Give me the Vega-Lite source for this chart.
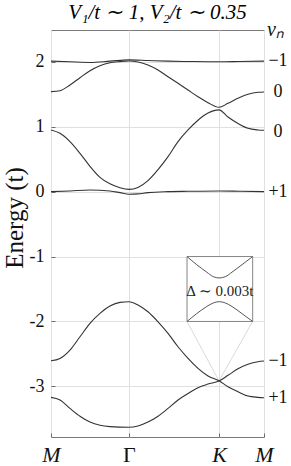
{
  "$schema": "https://vega.github.io/schema/vega-lite/v6.json",
  "width": 213,
  "height": 407,
  "autosize": {"type": "none"},
  "padding": {"left": 51, "top": 30, "right": 27, "bottom": 29},
  "background": "white",
  "title": {
    "text": "V₁/t ∼ 1, V₂/t ∼ 0.35",
    "font": "Liberation Serif",
    "fontSize": 21,
    "fontWeight": "normal",
    "fontStyle": "italic",
    "color": "#000000",
    "anchor": "middle",
    "frame": "group",
    "baseline": "alphabetic",
    "offset": 3,
    "dy": 23
  },
  "config": {
    "view": {"stroke": "#7a7a7a", "strokeWidth": 1},
    "axis": {
      "domain": false,
      "ticks": true,
      "tickSize": -4,
      "tickColor": "#6a6a6a",
      "tickWidth": 1,
      "gridColor": "#e0e0e0",
      "gridWidth": 1,
      "labelFont": "Liberation Serif",
      "labelColor": "#111111",
      "titleFont": "Liberation Serif",
      "titleColor": "#111111",
      "titleFontWeight": "normal"
    }
  },
  "datasets": {
    "bands": [
      {"band": "b1", "x": 0, "E": 2.01},
      {"band": "b1", "x": 0.211, "E": 2.0},
      {"band": "b1", "x": 0.433, "E": 1.99},
      {"band": "b1", "x": 0.655, "E": 2.01},
      {"band": "b1", "x": 0.866, "E": 2.03},
      {"band": "b1", "x": 1.077, "E": 2.02},
      {"band": "b1", "x": 1.3, "E": 2.01},
      {"band": "b1", "x": 1.522, "E": 2.005},
      {"band": "b1", "x": 1.866, "E": 2.0},
      {"band": "b1", "x": 2.1, "E": 2.005},
      {"band": "b1", "x": 2.366, "E": 2.01},
      {"band": "b2", "x": 0, "E": 1.54},
      {"band": "b2", "x": 0.1, "E": 1.555},
      {"band": "b2", "x": 0.211, "E": 1.643},
      {"band": "b2", "x": 0.322, "E": 1.755},
      {"band": "b2", "x": 0.433, "E": 1.863},
      {"band": "b2", "x": 0.544, "E": 1.94},
      {"band": "b2", "x": 0.655, "E": 1.986},
      {"band": "b2", "x": 0.766, "E": 2.003},
      {"band": "b2", "x": 0.866, "E": 2.012},
      {"band": "b2", "x": 0.966, "E": 1.997},
      {"band": "b2", "x": 1.077, "E": 1.951},
      {"band": "b2", "x": 1.189, "E": 1.874},
      {"band": "b2", "x": 1.3, "E": 1.77},
      {"band": "b2", "x": 1.411, "E": 1.669},
      {"band": "b2", "x": 1.522, "E": 1.565},
      {"band": "b2", "x": 1.633, "E": 1.462},
      {"band": "b2", "x": 1.744, "E": 1.37},
      {"band": "b2", "x": 1.866, "E": 1.299},
      {"band": "b2", "x": 1.966, "E": 1.36},
      {"band": "b2", "x": 2.077, "E": 1.438},
      {"band": "b2", "x": 2.188, "E": 1.499},
      {"band": "b2", "x": 2.299, "E": 1.53},
      {"band": "b2", "x": 2.366, "E": 1.535},
      {"band": "b3", "x": 0, "E": 0.95},
      {"band": "b3", "x": 0.1, "E": 0.898},
      {"band": "b3", "x": 0.211, "E": 0.77},
      {"band": "b3", "x": 0.322, "E": 0.59},
      {"band": "b3", "x": 0.433, "E": 0.39},
      {"band": "b3", "x": 0.544, "E": 0.22},
      {"band": "b3", "x": 0.655, "E": 0.12},
      {"band": "b3", "x": 0.766, "E": 0.06},
      {"band": "b3", "x": 0.866, "E": 0.035},
      {"band": "b3", "x": 0.966, "E": 0.065},
      {"band": "b3", "x": 1.077, "E": 0.17},
      {"band": "b3", "x": 1.189, "E": 0.34},
      {"band": "b3", "x": 1.3, "E": 0.54},
      {"band": "b3", "x": 1.411, "E": 0.77},
      {"band": "b3", "x": 1.522, "E": 0.95},
      {"band": "b3", "x": 1.633, "E": 1.1},
      {"band": "b3", "x": 1.744, "E": 1.21},
      {"band": "b3", "x": 1.866, "E": 1.26},
      {"band": "b3", "x": 1.966, "E": 1.15},
      {"band": "b3", "x": 2.077, "E": 1.05},
      {"band": "b3", "x": 2.188, "E": 0.975},
      {"band": "b3", "x": 2.299, "E": 0.95},
      {"band": "b3", "x": 2.366, "E": 0.945},
      {"band": "b4", "x": 0, "E": 0.0},
      {"band": "b4", "x": 0.211, "E": 0.01},
      {"band": "b4", "x": 0.433, "E": 0.025},
      {"band": "b4", "x": 0.655, "E": 0.01},
      {"band": "b4", "x": 0.766, "E": -0.015},
      {"band": "b4", "x": 0.866, "E": -0.04},
      {"band": "b4", "x": 0.966, "E": -0.035},
      {"band": "b4", "x": 1.077, "E": -0.015},
      {"band": "b4", "x": 1.3, "E": 0.0},
      {"band": "b4", "x": 1.522, "E": 0.005},
      {"band": "b4", "x": 1.866, "E": 0.01},
      {"band": "b4", "x": 2.1, "E": 0.005},
      {"band": "b4", "x": 2.366, "E": 0.0},
      {"band": "b5", "x": 0, "E": -2.606},
      {"band": "b5", "x": 0.1, "E": -2.569},
      {"band": "b5", "x": 0.211, "E": -2.441},
      {"band": "b5", "x": 0.322, "E": -2.236},
      {"band": "b5", "x": 0.433, "E": -2.029},
      {"band": "b5", "x": 0.544, "E": -1.875},
      {"band": "b5", "x": 0.655, "E": -1.763},
      {"band": "b5", "x": 0.766, "E": -1.706},
      {"band": "b5", "x": 0.866, "E": -1.696},
      {"band": "b5", "x": 0.966, "E": -1.747},
      {"band": "b5", "x": 1.077, "E": -1.85},
      {"band": "b5", "x": 1.189, "E": -2.005},
      {"band": "b5", "x": 1.3, "E": -2.183},
      {"band": "b5", "x": 1.411, "E": -2.39},
      {"band": "b5", "x": 1.522, "E": -2.569},
      {"band": "b5", "x": 1.633, "E": -2.723},
      {"band": "b5", "x": 1.744, "E": -2.841},
      {"band": "b5", "x": 1.866, "E": -2.914},
      {"band": "b5", "x": 1.966, "E": -3.006},
      {"band": "b5", "x": 2.077, "E": -3.083},
      {"band": "b5", "x": 2.188, "E": -3.149},
      {"band": "b5", "x": 2.299, "E": -3.169},
      {"band": "b5", "x": 2.366, "E": -3.176},
      {"band": "b6", "x": 0, "E": -3.17},
      {"band": "b6", "x": 0.1, "E": -3.21},
      {"band": "b6", "x": 0.211, "E": -3.34},
      {"band": "b6", "x": 0.322, "E": -3.46},
      {"band": "b6", "x": 0.433, "E": -3.55},
      {"band": "b6", "x": 0.544, "E": -3.6},
      {"band": "b6", "x": 0.655, "E": -3.62},
      {"band": "b6", "x": 0.866, "E": -3.63},
      {"band": "b6", "x": 0.966, "E": -3.61},
      {"band": "b6", "x": 1.077, "E": -3.55},
      {"band": "b6", "x": 1.189, "E": -3.46},
      {"band": "b6", "x": 1.3, "E": -3.34},
      {"band": "b6", "x": 1.411, "E": -3.21},
      {"band": "b6", "x": 1.522, "E": -3.11},
      {"band": "b6", "x": 1.633, "E": -3.02},
      {"band": "b6", "x": 1.744, "E": -2.965},
      {"band": "b6", "x": 1.866, "E": -2.917},
      {"band": "b6", "x": 1.966, "E": -2.83},
      {"band": "b6", "x": 2.077, "E": -2.73},
      {"band": "b6", "x": 2.188, "E": -2.66},
      {"band": "b6", "x": 2.299, "E": -2.62},
      {"band": "b6", "x": 2.366, "E": -2.61}
    ],
    "zoomLines": [
      {"seg": "L", "x": 1.511, "E": -2.0},
      {"seg": "L", "x": 1.866, "E": -2.916},
      {"seg": "R", "x": 2.24, "E": -2.0},
      {"seg": "R", "x": 1.866, "E": -2.916}
    ],
    "box": [
      {"x": 1.511, "x2": 2.24, "E": -1.0, "E2": -2.0}
    ],
    "inset": [
      {"c": "u", "x": 1.511, "E": -1.0},
      {"c": "u", "x": 1.618, "E": -1.125},
      {"c": "u", "x": 1.73, "E": -1.24},
      {"c": "u", "x": 1.803, "E": -1.31},
      {"c": "u", "x": 1.87, "E": -1.33},
      {"c": "u", "x": 1.937, "E": -1.31},
      {"c": "u", "x": 2.011, "E": -1.24},
      {"c": "u", "x": 2.122, "E": -1.125},
      {"c": "u", "x": 2.24, "E": -1.0},
      {"c": "l", "x": 1.511, "E": -2.0},
      {"c": "l", "x": 1.618, "E": -1.88},
      {"c": "l", "x": 1.73, "E": -1.77},
      {"c": "l", "x": 1.803, "E": -1.715},
      {"c": "l", "x": 1.87, "E": -1.695},
      {"c": "l", "x": 1.937, "E": -1.715},
      {"c": "l", "x": 2.011, "E": -1.77},
      {"c": "l", "x": 2.122, "E": -1.88},
      {"c": "l", "x": 2.24, "E": -2.0}
    ],
    "note": [
      {"x": 1.875, "E": -1.535, "label": "Δ ∼ 0.003t"}
    ],
    "chern": [
      {"x": 2.366, "E": 2.01, "nu": "−1"},
      {"x": 2.366, "E": 1.54, "nu": "0"},
      {"x": 2.366, "E": 0.92, "nu": "0"},
      {"x": 2.366, "E": 0.0, "nu": "+1"},
      {"x": 2.366, "E": -2.61, "nu": "−1"},
      {"x": 2.366, "E": -3.18, "nu": "+1"}
    ],
    "nuHead": [
      {"x": 2.366, "E": 2.49, "nu": "νₙ"}
    ]
  },
  "encoding": {
    "x": {
      "field": "x", "type": "quantitative",
      "scale": {"domain": [0, 2.366], "nice": false, "zero": false},
      "axis": {
        "orient": "bottom",
        "values": [0, 0.866, 1.866, 2.366],
        "labelExpr": "datum.value < 0.1 ? 'M' : datum.value < 1 ? 'Γ' : datum.value < 2 ? 'K' : 'M'",
        "labelFontSize": 22,
        "labelFontStyle": {"condition": {"test": "datum.value > 0.5 && datum.value < 1", "value": "normal"}, "value": "italic"},
        "labelPadding": 11,
        "labelFlush": false,
        "labelOverlap": false,
        "grid": true,
        "title": null
      }
    },
    "y": {
      "field": "E", "type": "quantitative",
      "scale": {"domain": [-3.78, 2.49], "nice": false, "zero": false},
      "axis": {
        "orient": "left",
        "values": [-3, -2, -1, 0, 1, 2],
        "labelExpr": "'' + datum.value",
        "labelFontSize": 18,
        "labelPadding": 11,
        "labelFlush": false,
        "labelOverlap": false,
        "grid": true,
        "title": "Energy (t)",
        "titleFontSize": 25,
        "titleAngle": -90,
        "titleAlign": "center",
        "titleBaseline": "alphabetic",
        "titleX": -29,
        "titleY": 187.5
      }
    }
  },
  "layer": [
    {
      "data": {"name": "zoomLines"},
      "mark": {"type": "line", "color": "#cfcfcf", "strokeWidth": 0.8},
      "encoding": {"detail": {"field": "seg"}}
    },
    {
      "data": {"name": "bands"},
      "mark": {"type": "line", "color": "#333333", "strokeWidth": 1.1, "interpolate": "monotone"},
      "encoding": {"detail": {"field": "band"}}
    },
    {
      "data": {"name": "box"},
      "mark": {"type": "rect", "fill": "white", "stroke": "#858585", "strokeWidth": 1},
      "encoding": {
        "x2": {"field": "x2"},
        "y2": {"field": "E2"}
      }
    },
    {
      "data": {"name": "inset"},
      "mark": {"type": "line", "color": "#555555", "strokeWidth": 1, "interpolate": "monotone"},
      "encoding": {"detail": {"field": "c"}}
    },
    {
      "data": {"name": "note"},
      "mark": {"type": "text", "font": "Liberation Serif", "fontSize": 15, "color": "#222222", "align": "center", "baseline": "middle"},
      "encoding": {"text": {"field": "label"}}
    },
    {
      "data": {"name": "chern"},
      "mark": {"type": "text", "font": "Liberation Serif", "fontSize": 18, "color": "#111111", "align": "center", "baseline": "middle", "dx": 14},
      "encoding": {"text": {"field": "nu"}}
    },
    {
      "data": {"name": "nuHead"},
      "mark": {"type": "text", "font": "Liberation Serif", "fontSize": 20, "fontStyle": "italic", "color": "#111111", "align": "left", "baseline": "alphabetic", "dx": 3, "dy": 6},
      "encoding": {"text": {"field": "nu"}}
    }
  ]
}
